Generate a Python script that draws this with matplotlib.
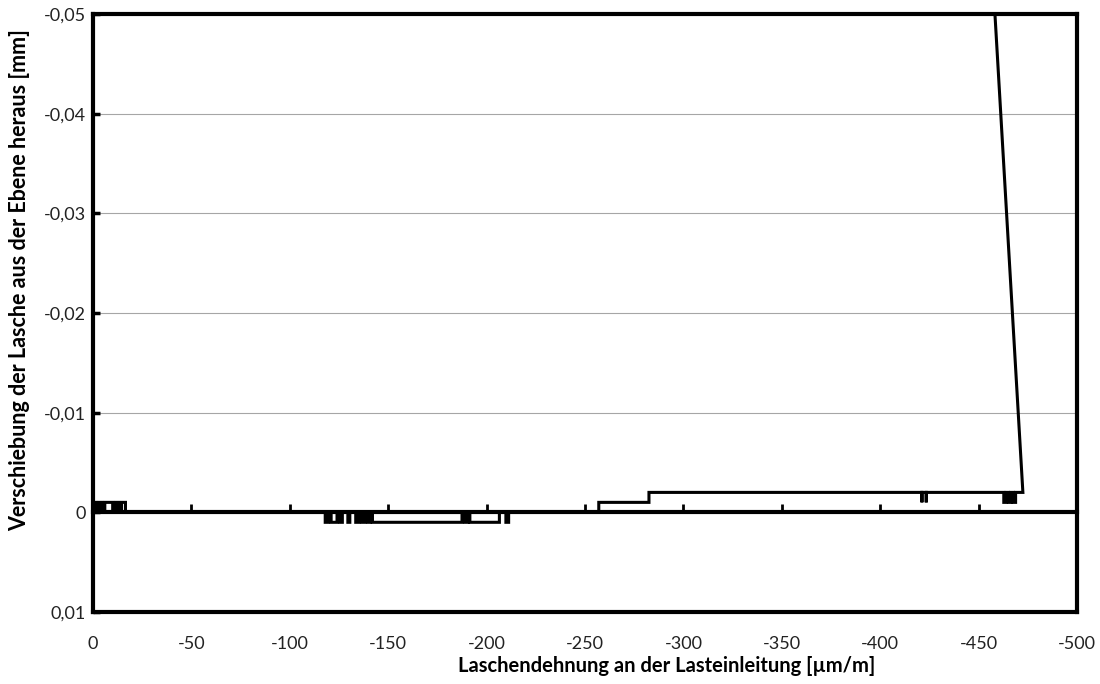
import matplotlib
matplotlib.use("Agg")
import matplotlib.pyplot as plt

# Out-of-plane displacement of the strap vs. strap strain at the load introduction
# strain in µm/m, displacement in mm (path in measurement order)
strain = [
    # start: small oscillation between 0 and -0.001
    0, 0, -1.5, -1.5, -3, -3, -4.5, -4.5, -6, -6, -10, -10,
    -11.5, -11.5, -13, -13, -14.5, -14.5, -16.5, -16.5,
    # plateau at +0.001
    -118, -118, -119.5, -119.5, -121, -121, -124, -124, -125.5, -125.5,
    -126.7, -126.7, -129.5, -129.5, -130.5, -130.5, -133.5, -133.5,
    -135, -135, -136.5, -136.5, -138, -138, -139.5, -139.5, -141, -141,
    -142, -142, -187.5, -187.5, -189, -189, -190.5, -190.5, -191.5, -191.5,
    -206.5, -206.5,
    # isolated excursion
    -209.8, -209.8, -211.2, -211.2,
    # stepping up to -0.001 and -0.002
    -257, -257, -282.5, -282.5,
    -421.2, -421.2, -421.2, -423.4, -423.4, -423.4,
    -462.8, -462.8, -464.0, -464.0, -465.2, -465.2, -466.4, -466.4,
    -467.6, -467.6, -468.8, -468.8,
    -472.5,
    # final rise
    -458.3,
]
displacement = [
    0, -0.001, -0.001, 0, 0, -0.001, -0.001, 0, 0, -0.001, -0.001, 0,
    0, -0.001, -0.001, 0, 0, -0.001, -0.001, 0,
    0, 0.001, 0.001, 0, 0, 0.001, 0.001, 0, 0, 0.001,
    0.001, 0, 0, 0.001, 0.001, 0, 0, 0.001,
    0.001, 0, 0, 0.001, 0.001, 0, 0, 0.001, 0.001, 0,
    0, 0.001, 0.001, 0, 0, 0.001, 0.001, 0, 0, 0.001,
    0.001, 0,
    0, 0.001, 0.001, 0,
    0, -0.001, -0.001, -0.002,
    -0.002, -0.001, -0.002, -0.002, -0.001, -0.002,
    -0.002, -0.001, -0.001, -0.002, -0.002, -0.001, -0.001, -0.002,
    -0.002, -0.001, -0.001, -0.002,
    -0.002,
    -0.05,
]

x_ticks = [0, -50, -100, -150, -200, -250, -300, -350, -400, -450, -500]
x_tick_labels = ["0", "-50", "-100", "-150", "-200", "-250", "-300", "-350",
                 "-400", "-450", "-500"]
y_ticks = [-0.05, -0.04, -0.03, -0.02, -0.01, 0, 0.01]
y_tick_labels = ["-0,05", "-0,04", "-0,03", "-0,02", "-0,01", "0", "0,01"]

x_title = "Laschendehnung an der Lasteinleitung [µm/m]"
y_title = "Verschiebung der Lasche aus der Ebene heraus [mm]"

plt.rcParams["font.family"] = ["Lato", "DejaVu Sans"]

fig = plt.figure(figsize=(11, 6.84), dpi=100)
ax = fig.add_axes([93 / 1100, 1 - 612 / 684, (1077 - 93) / 1100, (612 - 14) / 684])

ax.set_xlim(0, -500)
ax.set_ylim(0.01, -0.05)

ax.plot(strain, displacement, color="black", lw=2.2, solid_joinstyle="miter",
        zorder=3, clip_on=True)

# horizontal gridlines
ax.set_yticks(y_ticks)
ax.set_yticklabels(y_tick_labels)
ax.yaxis.grid(True, color="#a6a6a6", lw=0.8, zorder=0)
ax.set_axisbelow(True)

# x tick labels sit below the frame
ax.set_xticks(x_ticks)
ax.set_xticklabels(x_tick_labels)
ax.tick_params(axis="x", length=0, pad=17, labelsize=13, labelcolor="#222222")
ax.tick_params(axis="y", direction="in", length=5, width=2.5, pad=5,
               labelsize=13, labelcolor="#222222")

for sp in ax.spines.values():
    sp.set_linewidth(3)
    sp.set_color("black")

# horizontal axis line at zero displacement, with its tick marks
y0, y1 = ax.get_ylim()
zero_pos = (y0 - 0) / (y0 - y1)
secax = ax.secondary_xaxis(zero_pos)
secax.set_xticks(x_ticks)
secax.tick_params(axis="x", direction="in", length=6, width=2,
                  labelbottom=False, labeltop=False)
secax.spines["bottom"].set_linewidth(3)
secax.spines["bottom"].set_color("black")
secax.set_zorder(4)

ax.set_xlabel(x_title, fontsize=14.5, fontweight="bold", va="center")
ax.xaxis.set_label_coords(0.583, -0.0900)
ax.set_ylabel(y_title, fontsize=15.5, fontweight="bold", va="center")
ax.yaxis.set_label_coords(-0.0745, 0.555)

fig.savefig("out.png", dpi=100)
